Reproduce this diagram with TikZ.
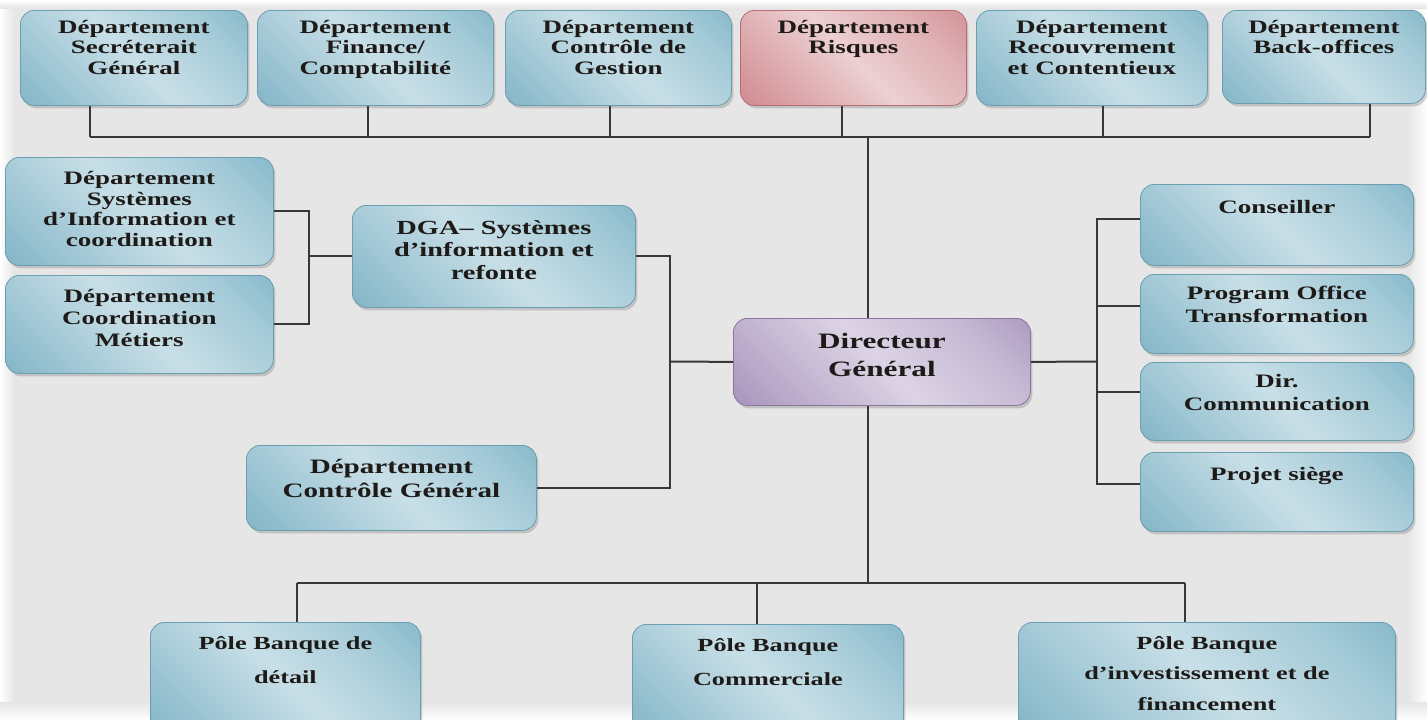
\documentclass[tikz,border=0pt]{standalone}
\usepackage{fontspec}
\setmainfont{Liberation Serif}[FakeStretch=1.42]
\usetikzlibrary{shadows,calc}
\definecolor{bggray}{HTML}{E6E6E6}
\definecolor{tealB}{HTML}{6A9EB0}
\definecolor{redB}{HTML}{B86C72}
\definecolor{purB}{HTML}{8A759F}
\definecolor{linec}{HTML}{383838}
\definecolor{textc}{HTML}{1E1A17}
\pgfdeclareverticalshading{tealsh}{100bp}{color(0bp)=(rgb,255:red,104;green,164;blue,185); color(22bp)=(rgb,255:red,145;green,190;blue,206); color(50bp)=(rgb,255:red,200;green,223;blue,231); color(72bp)=(rgb,255:red,165;green,203;blue,216); color(100bp)=(rgb,255:red,106;green,166;blue,188)}
\pgfdeclareverticalshading{redsh}{100bp}{color(0bp)=(rgb,255:red,195;green,112;blue,119); color(22bp)=(rgb,255:red,214;green,152;blue,157); color(50bp)=(rgb,255:red,236;green,208;blue,210); color(72bp)=(rgb,255:red,222;green,174;blue,178); color(100bp)=(rgb,255:red,198;green,118;blue,125)}
\pgfdeclareverticalshading{pursh}{100bp}{color(0bp)=(rgb,255:red,146;green,121;blue,170); color(22bp)=(rgb,255:red,180;green,162;blue,197); color(50bp)=(rgb,255:red,220;green,212;blue,229); color(72bp)=(rgb,255:red,196;green,183;blue,211); color(100bp)=(rgb,255:red,148;green,124;blue,172)}
\newcommand{\bx}[4]{\parbox[c][#2][t]{#1}{\centering\rule{0pt}{#3}#4\par}}
\tikzset{
  box/.style={draw=tealB, line width=0.8pt, rounded corners=14pt, inner sep=0pt,
    anchor=north west, shading=tealsh, shading angle=-45, text=textc,
    drop shadow={shadow xshift=2pt, shadow yshift=-3pt, opacity=0.35},
    font=\bfseries\fontsize{19}{20.5}\selectfont},
  redbox/.style={box, draw=redB, shading=redsh},
  purbox/.style={box, draw=purB, shading=pursh},
  conn/.style={draw=linec, line width=2pt},
}
\begin{document}
\begin{tikzpicture}[x=1pt, y=-1pt]
\useasboundingbox (0,0) rectangle (1427,720);
\clip (0,0) rectangle (1427,720);
% background
\fill[white] (0,0) rectangle (1427,720);
\fill[bggray] (12,0) rectangle (1410,704);
\shade[left color=white, right color=bggray] (0,0) rectangle (14,704);
\shade[left color=bggray, right color=white] (1408,0) rectangle (1427,704);
\shade[top color=bggray, bottom color=white] (0,702) rectangle (1427,720);
\shade[top color=white, bottom color=bggray] (0,0) rectangle (1427,8);

% top row
\node[box] (t1) at (20,10) {\bx{227pt}{95pt}{23pt}{Département\\Secréterait\\Général}};
\node[box] (t2) at (257,10) {\bx{236pt}{95pt}{23pt}{Département\\Finance/\\Comptabilité}};
\node[box] (t3) at (505,10) {\bx{226pt}{95pt}{23pt}{Département\\Contrôle de\\Gestion}};
\node[redbox] (t4) at (740,10) {\bx{226pt}{95pt}{23pt}{Département\\Risques}};
\node[box] (t5) at (976,10) {\bx{231pt}{95pt}{23pt}{Département\\Recouvrement\\et Contentieux}};
\node[box] (t6) at (1222,10) {\bx{203pt}{93pt}{23pt}{Département\\Back-offices}};

% left
\node[box, font=\bfseries\fontsize{19}{20.7}\selectfont] (si) at (5,157) {\bx{268pt}{108pt}{27pt}{Département\\Systèmes\\d’Information et\\coordination}};
\node[box, font=\bfseries\fontsize{19}{22}\selectfont] (cm) at (5,275) {\bx{268pt}{98pt}{27pt}{Département\\Coordination\\Métiers}};
\node[box, font=\bfseries\fontsize{20}{22.5}\selectfont] (dga) at (352,205) {\bx{283pt}{102pt}{29pt}{DGA– Systèmes\\d’information et\\refonte}};
\node[box, font=\bfseries\fontsize{20.5}{24}\selectfont] (cg) at (246,445) {\bx{290pt}{85pt}{28pt}{Département\\Contrôle Général}};

% centre
\node[purbox, font=\bfseries\fontsize{22}{28}\selectfont] (dg) at (733,318) {\bx{297pt}{87pt}{30pt}{Directeur\\Général}};

% right
\node[box, font=\bfseries\fontsize{19}{23}\selectfont] (c1) at (1140,184) {\bx{273pt}{81pt}{29pt}{Conseiller}};
\node[box, font=\bfseries\fontsize{19}{23}\selectfont] (c2) at (1140,274) {\bx{273pt}{79pt}{25pt}{Program Office\\Transformation}};
\node[box, font=\bfseries\fontsize{19}{23}\selectfont] (c3) at (1140,362) {\bx{273pt}{78pt}{25pt}{Dir.\\Communication}};
\node[box, font=\bfseries\fontsize{19}{23}\selectfont] (c4) at (1140,452) {\bx{273pt}{79pt}{28pt}{Projet siège}};

% bottom
\node[box, font=\bfseries\fontsize{18.5}{34}\selectfont] (pd) at (150,622) {\bx{270pt}{112pt}{27pt}{Pôle Banque de\\détail}};
\node[box, font=\bfseries\fontsize{18.5}{34}\selectfont] (pc) at (632,624) {\bx{271pt}{110pt}{27pt}{Pôle Banque\\Commerciale}};
\node[box, font=\bfseries\fontsize{18.5}{30.5}\selectfont] (pi) at (1018,622) {\bx{377pt}{112pt}{27pt}{Pôle Banque\\d’investissement et de\\financement}};

% coordinates
\coordinate (b1) at (90,137);
\coordinate (b2) at (368,137);
\coordinate (b3) at (610,137);
\coordinate (b4) at (842,137);
\coordinate (b5) at (1103,137);
\coordinate (b6) at (1370,137);
\coordinate (bc) at (868,137);
\coordinate (lx) at (309,263);
\coordinate (rx) at (670,361.5);
\coordinate (ry) at (1097,361.5);
\coordinate (bb) at (868,583);
\coordinate (p1) at (297,583);
\coordinate (p2) at (757,583);
\coordinate (p3) at (1185,583);

% top bus
\draw[conn] (b1) -- (b6);
\foreach \t/\b in {t1/b1,t2/b2,t3/b3,t4/b4,t5/b5,t6/b6}
  \draw[conn] (\t.south -| \b) -- (\b);
\draw[conn] (bc) -- (bc |- dg.north);

% left
\draw[conn] (si.east) -| (lx) |- (cm.east);
\draw[conn] (lx |- dga.west) -- (dga.west);
\draw[conn] (dga.east) -| (rx) |- (cg.east);
\draw[conn] (rx) -- (dg.west);

% right
\draw[conn] (dg.east) -- (ry);
\draw[conn] ([yshift=6pt]c1.west) -| (ry) |- ([yshift=8pt]c4.west);
\draw[conn] (ry |- c2.west) ++(0,-8) -- ([yshift=8pt]c2.west);
\draw[conn] (ry |- c3.west) ++(0,-9) -- ([yshift=9pt]c3.west);

% bottom
\draw[conn] (bb |- dg.south) -- (bb);
\draw[conn] (p1) -- (p3);
\draw[conn] (p1) -- (p1 |- pd.north);
\draw[conn] (p2) -- (p2 |- pc.north);
\draw[conn] (p3) -- (p3 |- pi.north);
\end{tikzpicture}
\end{document}
